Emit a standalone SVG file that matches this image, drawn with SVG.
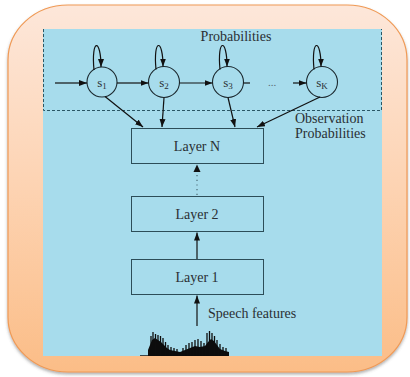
<svg xmlns="http://www.w3.org/2000/svg" width="410" height="377" viewBox="0 0 410 377">
  <defs>
    <linearGradient id="frameFill" x1="0" y1="0" x2="0" y2="1">
      <stop offset="0" stop-color="#fde7da"/>
      <stop offset="0.5" stop-color="#fdd3b2"/>
      <stop offset="1" stop-color="#fbbd87"/>
    </linearGradient>
    <filter id="shadow" x="-5%" y="-5%" width="110%" height="112%">
      <feDropShadow dx="0" dy="2" stdDeviation="1.5" flood-color="#555" flood-opacity="0.45"/>
    </filter>
    <marker id="arrow" viewBox="0 0 8 6" refX="8" refY="3" markerWidth="8" markerHeight="6" markerUnits="userSpaceOnUse" orient="auto">
      <path d="M0,0 L8,3 L0,6 z" fill="#111"/>
    </marker>
  </defs>
  <style>
    .txt { font-family: "Liberation Serif", "Times New Roman", serif; font-size: 14px; fill: #2a2f33; }
    .state { font-family: "Liberation Serif", "Times New Roman", serif; font-size: 13px; fill: #2a2f33; text-anchor: middle; }
    .sub { font-size: 9px; }
    .box { fill: none; stroke: #2c4d58; stroke-width: 1; }
    .circ { fill: none; stroke: #1c2a30; stroke-width: 1.1; }
    .edge { fill: none; stroke: #111; stroke-width: 1.2; }
    .arr { marker-end: url(#arrow); }
  </style>

  <!-- outer rounded frame -->
  <rect x="8" y="5" width="399" height="367" rx="60" ry="55" fill="url(#frameFill)" stroke="#f09a55" stroke-width="1.2" filter="url(#shadow)"/>

  <!-- blue panel -->
  <rect x="43" y="29" width="339" height="327" fill="#a7dcec"/>

  <!-- dashed HMM region (open at the top, where it meets the panel edge) -->
  <path id="hmm-region" d="M43.5,29 V110.5 H381.5 V29" fill="none" stroke="#2a5766" stroke-width="1" stroke-dasharray="3,2"/>
  <text class="txt" x="236" y="41" text-anchor="middle">Probabilities</text>

  <!-- HMM states -->
  <g id="s1">
    <circle class="circ" cx="102" cy="82" r="15"/>
    <text class="state" x="102" y="87">s<tspan class="sub" dy="2">1</tspan></text>
  </g>
  <g id="s2">
    <circle class="circ" cx="164" cy="82" r="15.5"/>
    <text class="state" x="164" y="87">s<tspan class="sub" dy="2">2</tspan></text>
  </g>
  <g id="s3">
    <circle class="circ" cx="228" cy="82" r="15.5"/>
    <text class="state" x="228" y="87">s<tspan class="sub" dy="2">3</tspan></text>
  </g>
  <g id="sK">
    <circle class="circ" cx="322" cy="82" r="15.5"/>
    <text class="state" x="322" y="87">s<tspan class="sub" dy="2">K</tspan></text>
  </g>
  <text x="272" y="86" text-anchor="middle" font-family="Liberation Serif, serif" font-size="11" fill="#5a6a70">...</text>

  <!-- network layers -->
  <g id="layerN">
    <rect class="box" x="131.5" y="128.5" width="132" height="35"/>
    <text class="txt" x="197" y="150.5" text-anchor="middle">Layer N</text>
  </g>
  <g id="layer2">
    <rect class="box" x="131.5" y="196.5" width="132" height="35"/>
    <text class="txt" x="197" y="218.5" text-anchor="middle">Layer 2</text>
  </g>
  <g id="layer1">
    <rect class="box" x="131.5" y="259.5" width="132" height="35"/>
    <text class="txt" x="197" y="281.5" text-anchor="middle">Layer 1</text>
  </g>

  <text class="txt" x="295" y="123">Observation</text>
  <text class="txt" x="295" y="138">Probabilities</text>
  <text class="txt" x="208" y="318">Speech features</text>

  <!-- connectors -->
  <g id="connectors">
    <line class="edge arr" x1="55" y1="83" x2="87" y2="83"/>
    <line class="edge arr" x1="117" y1="83" x2="148.5" y2="83"/>
    <line class="edge arr" x1="179.5" y1="83" x2="212.5" y2="83"/>
    <line class="edge" x1="243.5" y1="83" x2="250" y2="83"/>
    <line class="edge arr" x1="293" y1="83" x2="306.5" y2="83"/>

    <!-- self transitions -->
    <path class="edge arr" d="M94,70 C91,38 101,38 101,67"/>
    <path class="edge arr" d="M156,69.5 C153,38 163,38 163,66.5"/>
    <path class="edge arr" d="M220,69.5 C217,38 227,38 227,66.5"/>
    <path class="edge arr" d="M314,69.5 C311,38 321,38 321,66.5"/>

    <!-- emission links to the top layer -->
    <line class="edge arr" x1="105" y1="96.5" x2="143" y2="127"/>
    <line class="edge arr" x1="164" y1="97.5" x2="162" y2="127"/>
    <line class="edge arr" x1="228" y1="97.5" x2="235" y2="127"/>
    <line class="edge arr" x1="320" y1="97" x2="257" y2="127"/>

    <!-- between layers -->
    <line x1="197" y1="195" x2="197" y2="172" stroke="#4a6a75" stroke-width="1.2" stroke-dasharray="1.2,3.5"/>
    <path d="M193.5,172 L197,164.5 L200.5,172 z" fill="#111"/>
    <line class="edge arr" x1="197" y1="259" x2="197" y2="232.5"/>
    <line class="edge arr" x1="197" y1="326" x2="197" y2="295.5"/>
  </g>

  <!-- speech waveform -->
  <g id="waveform">
    <line x1="140" y1="355.5" x2="150" y2="355.5" stroke="#222" stroke-width="0.8"/>
    <path fill="#0d0d0d" d="M148,356 L148,350 L150,345 L152,340 L155,338 L158,340 L161,342 L164,345 L167,348 L170,350 L175,351 L180,352 L185,350 L190,348 L195,346 L200,347 L205,346 L208,342 L211,339 L214,341 L217,345 L220,349 L225,351 L229,352 L229,356 z"/>
    <g stroke="#0d0d0d" stroke-width="1.3">
      <line x1="151" y1="356" x2="151" y2="336"/>
      <line x1="153" y1="356" x2="153" y2="332"/>
      <line x1="155.5" y1="356" x2="155.5" y2="334"/>
      <line x1="158" y1="356" x2="158" y2="335"/>
      <line x1="160.5" y1="356" x2="160.5" y2="336"/>
      <line x1="163" y1="356" x2="163" y2="338"/>
      <line x1="165.5" y1="356" x2="165.5" y2="342"/>
      <line x1="168" y1="356" x2="168" y2="345"/>
      <line x1="171" y1="356" x2="171" y2="347"/>
      <line x1="174" y1="356" x2="174" y2="348"/>
      <line x1="177" y1="356" x2="177" y2="349"/>
      <line x1="183" y1="356" x2="183" y2="348"/>
      <line x1="186" y1="356" x2="186" y2="345"/>
      <line x1="189" y1="356" x2="189" y2="343"/>
      <line x1="192" y1="356" x2="192" y2="342"/>
      <line x1="195" y1="356" x2="195" y2="340"/>
      <line x1="198" y1="356" x2="198" y2="339"/>
      <line x1="201" y1="356" x2="201" y2="341"/>
      <line x1="204" y1="356" x2="204" y2="343"/>
      <line x1="207" y1="356" x2="207" y2="333"/>
      <line x1="209.5" y1="356" x2="209.5" y2="331"/>
      <line x1="212" y1="356" x2="212" y2="333"/>
      <line x1="214.5" y1="356" x2="214.5" y2="336"/>
      <line x1="217" y1="356" x2="217" y2="340"/>
      <line x1="220" y1="356" x2="220" y2="344"/>
      <line x1="223" y1="356" x2="223" y2="347"/>
      <line x1="226" y1="356" x2="226" y2="348"/>
    </g>
  </g>
</svg>
